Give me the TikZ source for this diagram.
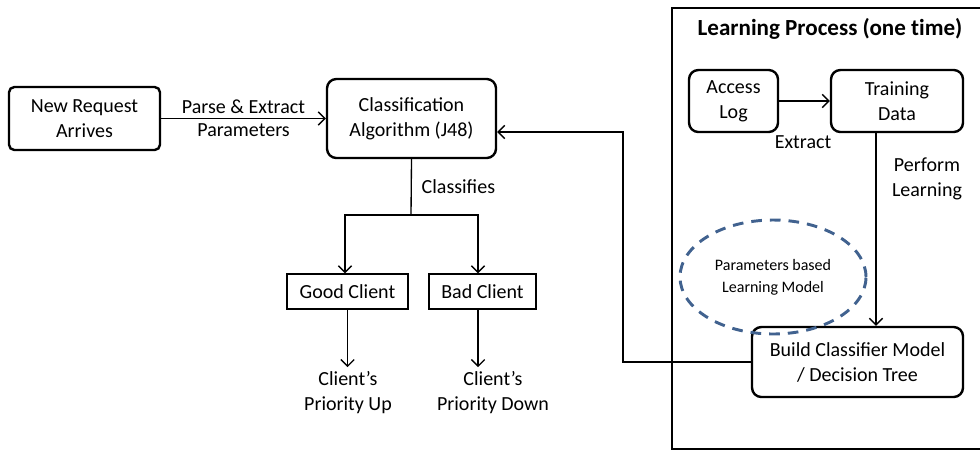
\documentclass[tikz,border=0pt]{standalone}
\usepackage{fontspec}
\setmainfont{Carlito}
\usepackage{xcolor}
\usetikzlibrary{arrows.meta, positioning, shapes.geometric}

\definecolor{dashblue}{RGB}{65,98,143}

\begin{document}
\begin{tikzpicture}[
        x=0.75pt, y=-0.75pt,
        every node/.style={font=\fontsize{15}{18.75}\selectfont, align=center},
        proc/.style={draw, line width=1.8pt, rounded corners=7pt, inner sep=0pt},
        plain/.style={draw, line width=1pt, inner sep=0pt,
                      minimum height=26.25pt},
        arr/.style={line width=1pt, -{Straight Barb[length=5pt, width=10pt]}},
        link/.style={line width=1pt}
]
\useasboundingbox (0,0) rectangle (980,451);

%--- learning frame (runs off the right edge) ----------------
\draw[line width=1.6pt] (982,8) -- (672,8) -- (672,449) -- (982,449);
\node[font=\fontsize{17.3}{20}\selectfont\bfseries\addfontfeatures{Ligatures=NoCommon}]
      (title) at (830,29) {Learning Process (one time)};

%--- request side ---------------------------------------------
\node[proc, rounded corners=4pt, minimum width=113.25pt, minimum height=47.25pt]
      (req) at (84.5,118.5) {New Request\\Arrives};
\node[proc, minimum width=126.75pt, minimum height=59.25pt]
      (cls) at (411.5,118.5) {Classification\\Algorithm (J48)};

\node[plain, minimum width=90.75pt] (good) at (347.5,291.5) {Good Client};
\node[plain, minimum width=80.25pt] (bad)  at (482.5,291.5) {Bad Client};

\node (up)   at (348,393) {Client’s\\Priority Up};
\node (down) at (493,393) {Client’s\\Priority Down};

%--- learning side --------------------------------------------
\node[proc, minimum width=66.75pt, minimum height=46.5pt]
      (log) at (733.5,101) {Access\\Log};
\node[proc, minimum width=99pt, minimum height=46.5pt]
      (train) at (897,101) {Training\\Data};
\node[proc, minimum width=158.25pt, minimum height=52.5pt, fill=white]
      (build) at (857.5,362) {Build Classifier Model\\/ Decision Tree};

\node[draw=dashblue, dash pattern=on 8pt off 6pt, line width=2.2pt,
      ellipse, minimum width=139.5pt, minimum height=85.5pt,
      font=\fontsize{12}{16.5}\selectfont] (model) at (773,277)
      {Parameters based\\Learning Model};

%--- helper points --------------------------------------------
\coordinate (split) at (411,215);
\coordinate (learn) at (876,0);
\coordinate (turn)  at (623,362);
\coordinate (hit)   at (0,132);
\coordinate (goodx) at (345,0);
\coordinate (badx)  at (478,0);

%--- connectors -----------------------------------------------
\draw[arr] (req) -- (cls)
      node[midway, yshift=9pt]  {Parse \& Extract}
      node[midway, yshift=-9pt] {Parameters};

\draw[link] (cls.south) -- (split)
      node[midway, right=4pt] {Classifies};
\draw[arr] (split) -| (good.north -| goodx);
\draw[arr] (split) -| (bad.north -| badx);
\draw[arr] (good.south) -- (good.south |- up.north);
\draw[arr] (bad.south -| badx) -- (down.north -| badx);

\draw[arr] (log) -- (train);
\node (extract) at (803,142) {Extract};
\draw[arr] (train.south -| learn) -- (build.north -| learn);
\node (perform) at (927,179) {Perform\\Learning};

\draw[arr] (build.west) -- (turn) |- (cls.east |- hit);

\end{tikzpicture}
\end{document}
